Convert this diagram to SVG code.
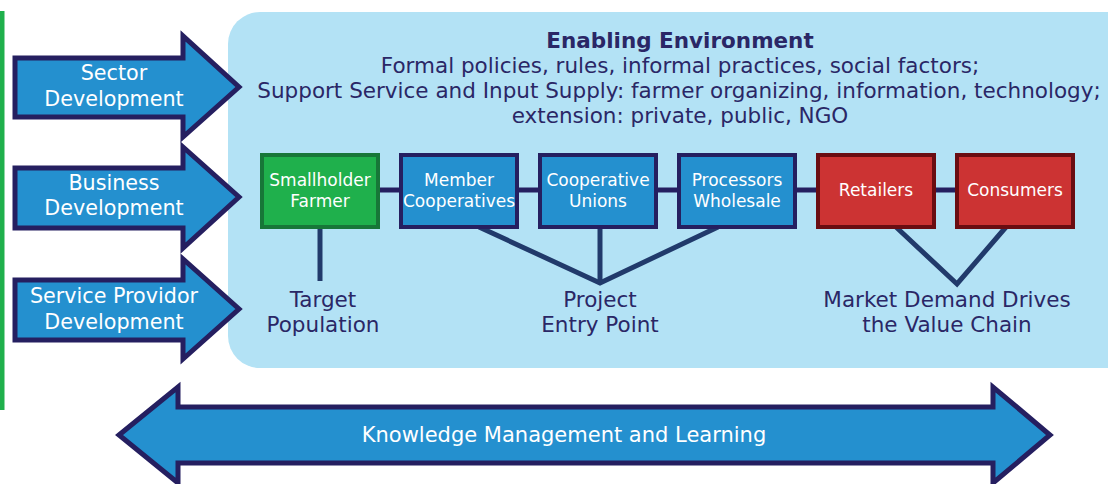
<svg xmlns="http://www.w3.org/2000/svg" width="1108" height="484" viewBox="0 0 1108 484">
<style>
.arr{fill:#2490cf;stroke:#251f60;stroke-width:5;stroke-linejoin:miter}
.wt{fill:#ffffff;font-family:"DejaVu Sans",Verdana,sans-serif;font-size:20.7px;text-anchor:middle}
.kt{fill:#ffffff;font-family:"DejaVu Sans",Verdana,sans-serif;font-size:21px;text-anchor:middle}
.bt{fill:#ffffff;font-family:"DejaVu Sans",Verdana,sans-serif;font-size:17px;text-anchor:middle}
.dt{fill:#2a2766;font-family:"DejaVu Sans",Verdana,sans-serif;font-size:21.5px;text-anchor:middle}
.blue{fill:#2490cf;stroke:#251f60;stroke-width:4}
.green{fill:#1fb04c;stroke:#177638;stroke-width:4}
.red{fill:#cc3333;stroke:#6a0d12;stroke-width:4}
.link{stroke:#251f60;stroke-width:5;fill:none}
.lead{stroke:#213a6b;stroke-width:5;fill:none}
</style>
<rect x="0" y="11" width="4.5" height="399" fill="#1fb04c"/>
<g id="environment">
<rect x="228" y="12" width="910" height="356" rx="32" fill="#b3e2f5"/>
<text class="dt" x="680" y="48" font-weight="bold">Enabling Environment</text>
<text class="dt" x="680" y="73">Formal policies, rules, informal practices, social factors;</text>
<text class="dt" x="679" y="98">Support Service and Input Supply: farmer organizing, information, technology;</text>
<text class="dt" x="680" y="123">extension: private, public, NGO</text>
</g>
<g id="sector-development">
<path class="arr" d="M15,58 H183 V36 L239,87 L183,137 V117 H15 Z"/>
<text class="wt" x="114" y="80">Sector</text>
<text class="wt" x="114" y="106">Development</text>
</g>
<g id="business-development">
<path class="arr" d="M15,168 H183 V147 L239,197 L183,248 V228 H15 Z"/>
<text class="wt" x="114" y="190">Business</text>
<text class="wt" x="114" y="215">Development</text>
</g>
<g id="service-provider-development">
<path class="arr" d="M15,280 H183 V259 L239,309 L183,359 V340 H15 Z"/>
<text class="wt" x="114" y="303">Service Providor</text>
<text class="wt" x="114" y="329">Development</text>
</g>
<g id="connectors">
<line class="link" x1="378" y1="190" x2="401" y2="190"/>
<line class="link" x1="517" y1="190" x2="540" y2="190"/>
<line class="link" x1="656" y1="190" x2="679" y2="190"/>
<line class="link" x1="795" y1="190" x2="818" y2="190"/>
<line class="link" x1="934" y1="190" x2="957" y2="190"/>
<line class="lead" x1="320" y1="227" x2="320" y2="281"/>
<polyline class="lead" points="479,227 600,283 718,227"/>
<line class="lead" x1="600" y1="227" x2="600" y2="283"/>
<polyline class="lead" points="896,227 957,284 1006,227"/>
</g>
<g id="smallholder-farmer">
<rect class="green" x="262" y="155" width="116" height="72"/>
<text class="bt" x="320" y="186">Smallholder</text>
<text class="bt" x="320" y="207">Farmer</text>
</g>
<g id="member-cooperatives">
<rect class="blue" x="401" y="155" width="116" height="72"/>
<text class="bt" x="459" y="186">Member</text>
<text class="bt" x="459" y="207">Cooperatives</text>
</g>
<g id="cooperative-unions">
<rect class="blue" x="540" y="155" width="116" height="72"/>
<text class="bt" x="598" y="186">Cooperative</text>
<text class="bt" x="598" y="207">Unions</text>
</g>
<g id="processors-wholesale">
<rect class="blue" x="679" y="155" width="116" height="72"/>
<text class="bt" x="737" y="186">Processors</text>
<text class="bt" x="737" y="207">Wholesale</text>
</g>
<g id="retailers">
<rect class="red" x="818" y="155" width="116" height="72"/>
<text class="bt" x="876" y="196">Retailers</text>
</g>
<g id="consumers">
<rect class="red" x="957" y="155" width="116" height="72"/>
<text class="bt" x="1015" y="196">Consumers</text>
</g>
<g id="target-population">
<text class="dt" x="323" y="307">Target</text>
<text class="dt" x="323" y="332">Population</text>
</g>
<g id="project-entry-point">
<text class="dt" x="600" y="307">Project</text>
<text class="dt" x="600" y="332">Entry Point</text>
</g>
<g id="market-demand">
<text class="dt" x="947" y="307">Market Demand Drives</text>
<text class="dt" x="947" y="332">the Value Chain</text>
</g>
<g id="knowledge-management">
<path class="arr" d="M119,435 L178,387 V407 H993 V387 L1050,435 L993,483 V463 H178 V483 Z"/>
<text class="kt" x="564" y="442">Knowledge Management and Learning</text>
</g>
</svg>
